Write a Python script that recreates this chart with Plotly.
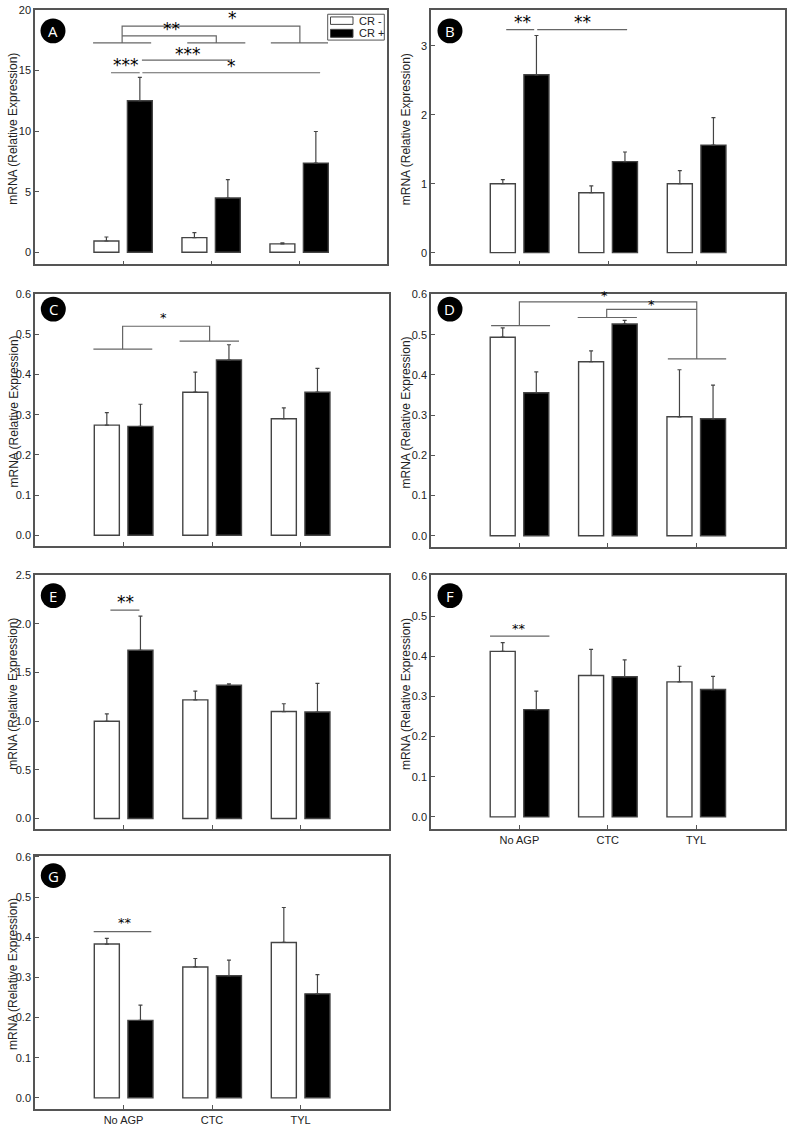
import plotly.graph_objects as go

W, H = 787, 1126

# ---------------- data ----------------
groups = ["No AGP", "CTC", "TYL"]
group_pos = [1, 2, 3]
series_names = ["CR -", "CR +"]
y_title = "mRNA (Relative Expression)"

A_minus = [0.93, 1.21, 0.69]
A_minus_err = [0.33, 0.41, 0.08]
A_plus = [12.51, 4.48, 7.36]
A_plus_err = [1.92, 1.51, 2.61]

B_minus = [1.00, 0.87, 1.00]
B_minus_err = [0.06, 0.10, 0.19]
B_plus = [2.58, 1.32, 1.56]
B_plus_err = [0.57, 0.14, 0.40]

C_minus = [0.274, 0.356, 0.290]
C_minus_err = [0.031, 0.050, 0.027]
C_plus = [0.271, 0.436, 0.356]
C_plus_err = [0.055, 0.038, 0.059]

D_minus = [0.494, 0.433, 0.296]
D_minus_err = [0.023, 0.027, 0.117]
D_plus = [0.356, 0.527, 0.291]
D_plus_err = [0.052, 0.009, 0.084]

E_minus = [1.00, 1.22, 1.10]
E_minus_err = [0.075, 0.09, 0.08]
E_plus = [1.73, 1.37, 1.095]
E_plus_err = [0.35, 0.015, 0.295]

F_minus = [0.412, 0.352, 0.336]
F_minus_err = [0.022, 0.065, 0.039]
F_plus = [0.267, 0.349, 0.317]
F_plus_err = [0.046, 0.042, 0.033]

G_minus = [0.383, 0.326, 0.387]
G_minus_err = [0.014, 0.021, 0.087]
G_plus = [0.193, 0.304, 0.259]
G_plus_err = [0.038, 0.039, 0.048]

A_ticks = [0, 5, 10, 15, 20]
B_ticks = [0, 1, 2, 3]
small_ticks = [0.0, 0.1, 0.2, 0.3, 0.4, 0.5, 0.6]
E_ticks = [0.0, 0.5, 1.0, 1.5, 2.0, 2.5]

# significance marks (data coordinates)
A_segments = [([0.66, 1.32], 17.28), ([1.73, 2.39], 17.28), ([2.68, 3.33], 17.28),
              ([0.864, 1.19], 14.82), ([1.215, 2.215], 15.86), ([1.22, 3.24], 14.82)]
A_paths = [[(0.99, 17.28), (0.99, 18.66), (3.01, 18.66), (3.01, 17.28)],
           [(0.99, 17.86), (2.06, 17.86), (2.06, 17.28)]]
A_stars = [("*", 2.24, 19.15), ("**", 1.55, 18.25), ("***", 1.03, 15.3),
           ("***", 1.74, 16.2), ("*", 2.23, 15.2)]

B_segments = [([0.85, 1.166], 3.235), ([1.2, 2.216], 3.235)]
B_paths = []
B_stars = [("**", 1.03, 3.31), ("**", 1.71, 3.31)]

C_segments = [([0.66, 1.325], 0.463), ([1.634, 2.305], 0.483)]
C_paths = [[(0.99, 0.463), (0.99, 0.52), (1.973, 0.52), (1.973, 0.483)]]
C_stars = [("*", 1.456, 0.538)]

D_segments = [([0.68, 1.347], 0.523), ([1.66, 2.33], 0.543), ([2.68, 3.34], 0.44)]
D_paths = [[(1.0, 0.523), (1.0, 0.582), (3.007, 0.582), (3.007, 0.44)],
           [(1.988, 0.543), (1.988, 0.563), (3.007, 0.563)]]
D_stars = [("*", 1.962, 0.592), ("*", 2.5, 0.571)]

E_segments = [([0.852, 1.18], 2.142)]
E_paths = []
E_stars = [("**", 1.02, 2.2)]

F_segments = [([0.668, 1.34], 0.45)]
F_paths = []
F_stars = [("**", 1.0, 0.464)]

G_segments = [([0.663, 1.314], 0.414)]
G_paths = []
G_stars = [("**", 1.02, 0.431)]

# ---------------- layout helpers ----------------
def px(x):
    return x / W

def py(y):
    return 1 - y / H

FONT = "Liberation Sans, Arial, sans-serif"
STAR_FONT = "DejaVu Sans, sans-serif"
LINE = "#555555"
SIG = "#666666"

panels = [
    dict(name="A", box=(35, 387, 4, 260), yr=[-1, 20], ticks=A_ticks, fmt="{:g}",
         minus=A_minus, me=A_minus_err, plus=A_plus, pe=A_plus_err,
         segs=A_segments, paths=A_paths, stars=A_stars, star_size=17, xlab=False,
         circ=(53, 25)),
    dict(name="B", box=(431, 785, 4, 260), yr=[-0.17, 3.52], ticks=B_ticks, fmt="{:g}",
         minus=B_minus, me=B_minus_err, plus=B_plus, pe=B_plus_err,
         segs=B_segments, paths=B_paths, stars=B_stars, star_size=17, xlab=False,
         circ=(450, 25)),
    dict(name="C", box=(35, 389, 289.5, 543.5), yr=[-0.027, 0.601], ticks=small_ticks, fmt="{:.1f}",
         minus=C_minus, me=C_minus_err, plus=C_plus, pe=C_plus_err,
         segs=C_segments, paths=C_paths, stars=C_stars, star_size=13, xlab=False,
         circ=(53.3, 305)),
    dict(name="D", box=(431, 784.5, 290, 544), yr=[-0.027, 0.601], ticks=small_ticks, fmt="{:.1f}",
         minus=D_minus, me=D_minus_err, plus=D_plus, pe=D_plus_err,
         segs=D_segments, paths=D_paths, stars=D_stars, star_size=13, xlab=False,
         circ=(450, 305)),
    dict(name="E", box=(35, 389, 572.7, 828.3), yr=[-0.109, 2.502], ticks=E_ticks, fmt="{:.1f}",
         minus=E_minus, me=E_minus_err, plus=E_plus, pe=E_plus_err,
         segs=E_segments, paths=E_paths, stars=E_stars, star_size=17, xlab=False,
         circ=(53.3, 593.3)),
    dict(name="F", box=(431, 784.5, 573, 827.7), yr=[-0.029, 0.601], ticks=small_ticks, fmt="{:.1f}",
         minus=F_minus, me=F_minus_err, plus=F_plus, pe=F_plus_err,
         segs=F_segments, paths=F_paths, stars=F_stars, star_size=13, xlab=True,
         circ=(450, 593.3)),
    dict(name="G", box=(35, 389, 855, 1110), yr=[-0.028, 0.603], ticks=small_ticks, fmt="{:.1f}",
         minus=G_minus, me=G_minus_err, plus=G_plus, pe=G_plus_err,
         segs=G_segments, paths=G_paths, stars=G_stars, star_size=13, xlab=True,
         circ=(53.3, 875)),
]

fig = go.Figure()
shapes = []
annotations = []
layout = {}

BAR_W = 0.283
OFF_MINUS = -0.33
OFF_PLUS = 0.05

for i, p in enumerate(panels):
    n = i + 1
    xs = "x" if n == 1 else f"x{n}"
    ys = "y" if n == 1 else f"y{n}"
    xk = "xaxis" if n == 1 else f"xaxis{n}"
    yk = "yaxis" if n == 1 else f"yaxis{n}"
    l, r, t, b = p["box"]

    for vals, errs, color, off, nm in [(p["minus"], p["me"], "white", OFF_MINUS, series_names[0]),
                                       (p["plus"], p["pe"], "black", OFF_PLUS, series_names[1])]:
        fig.add_trace(go.Bar(
            x=group_pos, y=vals, width=BAR_W, offset=off, name=nm,
            marker=dict(color=color, line=dict(color="#444444", width=1.4)),
            error_y=dict(type="data", array=errs, arrayminus=[0] * len(errs), symmetric=False,
                         color="#444444", thickness=1.2, width=2),
            xaxis=xs, yaxis=ys, showlegend=False))

    layout[xk] = dict(domain=[px(l), px(r)], range=[0, 4], anchor=ys,
                      tickvals=group_pos, ticktext=groups if p["xlab"] else ["", "", ""],
                      ticks="inside", ticklen=4, tickcolor=LINE, tickwidth=1,
                      showline=True, linecolor=LINE, linewidth=1.5, mirror=True,
                      showgrid=False, zeroline=False,
                      tickfont=dict(family=FONT, size=11, color="#222222"))
    layout[yk] = dict(domain=[py(b), py(t)], range=p["yr"], anchor=xs,
                      tickvals=p["ticks"], ticktext=[p["fmt"].format(v) for v in p["ticks"]],
                      ticks="inside", ticklen=4, tickcolor=LINE, tickwidth=1,
                      showline=True, linecolor=LINE, linewidth=1.5, mirror=True,
                      showgrid=False, zeroline=False,
                      tickfont=dict(family=FONT, size=11, color="#222222"))

    # significance lines
    for (xr, yv) in p["segs"]:
        shapes.append(dict(type="line", xref=xs, yref=ys, x0=xr[0], x1=xr[1], y0=yv, y1=yv,
                           line=dict(color=SIG, width=1.2)))
    for path in p["paths"]:
        d = "M " + " L ".join(f"{a},{c}" for a, c in path)
        shapes.append(dict(type="path", xref=xs, yref=ys, path=d,
                           line=dict(color=SIG, width=1.2)))
    for (txt, xv, yv) in p["stars"]:
        annotations.append(dict(text=txt, x=xv, y=yv, xref=xs, yref=ys, showarrow=False,
                                xanchor="center", yanchor="middle",
                                yshift=0.14 * p["star_size"],
                                font=dict(family=STAR_FONT, size=p["star_size"], color="black")))

    # panel letter
    cx, cy = p["circ"]
    rr = 12.5
    shapes.append(dict(type="circle", xref="paper", yref="paper",
                       x0=px(cx - rr), x1=px(cx + rr), y0=py(cy + rr), y1=py(cy - rr),
                       fillcolor="black", line=dict(color="black", width=0)))
    annotations.append(dict(text=p["name"], x=px(cx), y=py(cy), xref="paper", yref="paper",
                            showarrow=False, xanchor="center", yanchor="middle",
                            font=dict(family="Open Sans, sans-serif", size=15, color="white")))

    # y title
    tx = 13.5 if l < 100 else 406
    annotations.append(dict(text=y_title, x=px(tx), y=py((t + b) / 2 - 8), xref="paper", yref="paper",
                            showarrow=False, textangle=-90, xanchor="center", yanchor="middle",
                            font=dict(family=FONT, size=12, color="#222222")))

# legend in panel A
shapes.append(dict(type="rect", xref="paper", yref="paper", x0=px(327.7), x1=px(384.3),
                   y0=py(34.3), y1=py(8.3), line=dict(color=LINE, width=1), fillcolor="white"))
shapes.append(dict(type="rect", xref="paper", yref="paper", x0=px(330.5), x1=px(353),
                   y0=py(18.5), y1=py(11), line=dict(color="#444444", width=1), fillcolor="white"))
shapes.append(dict(type="rect", xref="paper", yref="paper", x0=px(330.5), x1=px(353),
                   y0=py(31.5), y1=py(23.5), line=dict(color="#444444", width=1), fillcolor="black"))
annotations.append(dict(text=series_names[0], x=px(357), y=py(14.8), xref="paper", yref="paper",
                        showarrow=False, xanchor="left", yanchor="middle",
                        font=dict(family=FONT, size=11, color="#222222")))
annotations.append(dict(text=series_names[1], x=px(357), y=py(27.5), xref="paper", yref="paper",
                        showarrow=False, xanchor="left", yanchor="middle",
                        font=dict(family=FONT, size=11, color="#222222")))

fig.update_layout(width=W, height=H, margin=dict(l=0, r=0, t=0, b=0),
                  paper_bgcolor="white", plot_bgcolor="white", barmode="overlay",
                  shapes=shapes, annotations=annotations, showlegend=False, **layout)

fig.write_html("out.html", config={"displayModeBar": False},
               post_script="document.body.style.margin='0';document.body.style.overflow='hidden';")
